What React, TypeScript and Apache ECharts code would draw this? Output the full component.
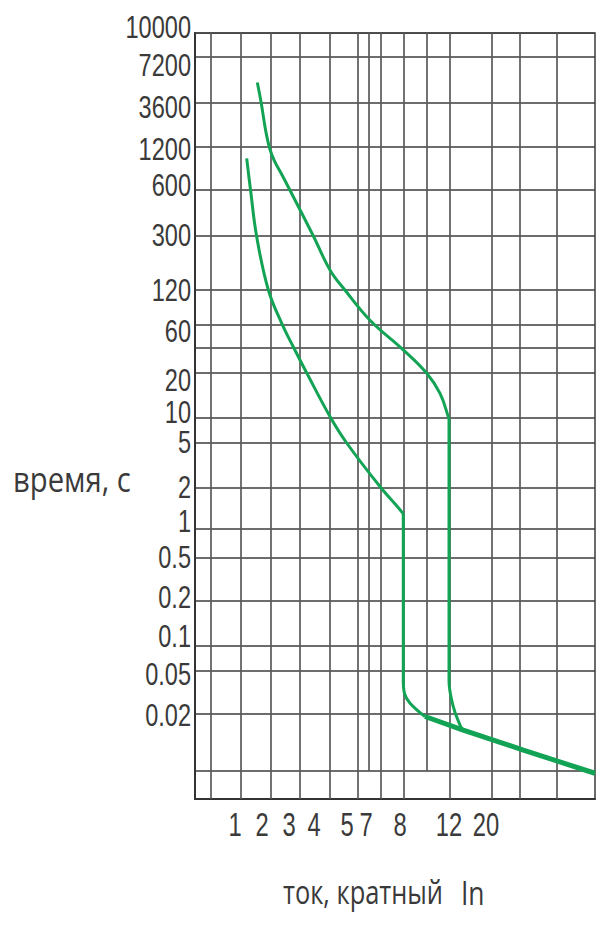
import React, { useEffect, useRef } from "react";
import * as echarts from "echarts";

// ---------- DATA ----------
// time axis (seconds), labelled grid lines, top to bottom
const timeTicks = [10000, 7200, 3600, 1200, 600, 300, 120, 60, 20, 10, 5, 2, 1, 0.5, 0.2, 0.1, 0.05, 0.02];
// unlabelled time grid lines
const timeExtra = [40, 0.01];
// current multiple axis labels (I / In)
const currentTicks = [1, 2, 3, 4, 5, 7, 8, 12, 20];

// tripping curve that goes vertical at ~8 In  [I/In, t s]
const curve8: [number, number][] = [
  [1.35, 1000], [1.49, 600], [1.746, 296], [2.2, 120], [2.69, 62], [3.15, 40.9],
  [3.68, 20], [4.46, 10.2], [4.99, 5], [7.4, 2.05], [8.11, 1.34], [8.22, 1.27],
  [8.22, 0.041], [8.3, 0.031], [8.69, 0.0252], [9.84, 0.0194],
];
// tripping curve that goes vertical at ~12 In
const curve12: [number, number][] = [
  [1.773, 4900], [1.96, 3600], [2.11, 1835], [2.24, 1181], [2.41, 958], [2.66, 789],
  [3.03, 600], [3.97, 300], [4.46, 168], [4.93, 120], [7.11, 66],
  [8.22, 38], [9.98, 19.9], [11.14, 14.6], [11.93, 10.2], [12.0, 9.5],
  [12.0, 0.041], [12.73, 0.0234], [13.96, 0.0175], [14.6, 0.01646],
];
// common instantaneous tail
const tail: [number, number][] = [
  [9.84, 0.0194], [14.6, 0.01646], [33.5, 0.0129], [90, 0.00973],
];

// ---------- LAYOUT (axis units of the schematic scales) ----------
const Y_MAX = 766;
const X_MAX = 400;
const TIME_POS: Record<string, number> = {
  "10000": 766, "7200": 742, "3600": 696, "1200": 652, "600": 609, "300": 563,
  "120": 509, "60": 474, "40": 451, "20": 426, "10": 381, "5": 356, "2": 311,
  "1": 270, "0.5": 241, "0.2": 198, "0.1": 153, "0.05": 128, "0.02": 85, "0.01": 28,
};
const CURRENT_POS: Record<string, number> = {
  "1": 40, "2": 67, "3": 94, "4": 119, "5": 152, "7": 171, "8": 205, "12": 254, "20": 291,
};
// small vertical nudges (px) of the time labels, as drawn in the original
const TIME_LABEL_DY = [-6, 8, 4, 2, -5, -1, 0, 6, 7, -6, -1, -1, -8, -1, -4, -10, 3, 1];
const VLINES = [15.7, 45.5, 75.5, 105, 134.3, 162.3, 173.7, 185.7, 208.3, 231.7, 254.3, 296.7, 324.3, 361.7];
const SHORT_VLINES = [173.7, 231.7];

// piecewise-logarithmic scale through anchor points
function makeScale(anchors: Record<string, number>) {
  const pts = Object.keys(anchors)
    .map((k) => [Math.log10(parseFloat(k)), anchors[k]] as [number, number])
    .sort((a, b) => a[0] - b[0]);
  return (v: number) => {
    const L = Math.log10(v);
    let i = 0;
    if (L >= pts[pts.length - 1][0]) i = pts.length - 2;
    else if (L > pts[0][0]) {
      while (L > pts[i + 1][0]) i++;
    }
    const [l0, p0] = pts[i];
    const [l1, p1] = pts[i + 1];
    return p0 + ((L - l0) / (l1 - l0)) * (p1 - p0);
  };
}
const fy = makeScale(TIME_POS);
const fx = makeScale(CURRENT_POS);

const GREEN = "#12a454";
const TEXT = "#3a3a3a";
const NUM_FONT = "'Liberation Sans', Arial, sans-serif";
const TITLE_FONT = "'Open Sans', 'DejaVu Sans', sans-serif";

export default function App() {
  const ref = useRef<HTMLDivElement>(null);
  useEffect(() => {
    if (!ref.current) return;
    const chart = echarts.init(ref.current, null, { renderer: "svg" });

    const hLines = [...timeTicks, ...timeExtra].map((t) => ({
      coords: [[0, fy(t)], [X_MAX, fy(t)]],
    }));
    const vLines = VLINES.map((x) => ({
      coords: [[x, SHORT_VLINES.includes(x) ? fy(0.01) : 0], [x, Y_MAX]],
    }));

    const toPts = (arr: [number, number][]) => arr.map(([i, t]) => [fx(i), fy(t)]);

    const labelStyle = (text: string, align: string, size: number) => ({
      text, fontFamily: NUM_FONT, fontSize: size, fill: TEXT, align, verticalAlign: "middle",
    });

    const option: any = {
      animation: false,
      grid: {
        left: 195, right: 1, top: 33, bottom: 129,
        show: true, borderColor: "#3c3c3c", borderWidth: 1.5,
        containLabel: false, outerBoundsMode: "none",
      },
      xAxis: {
        type: "value", min: 0, max: X_MAX,
        axisLine: { show: true, onZero: false, lineStyle: { color: "#333", width: 2 } },
        axisTick: { show: false }, splitLine: { show: false }, axisLabel: { show: false },
      },
      yAxis: {
        type: "value", min: 0, max: Y_MAX,
        axisLine: { show: true, onZero: false, lineStyle: { color: "#333", width: 2 } },
        axisTick: { show: false }, splitLine: { show: false }, axisLabel: { show: false },
      },
      series: [
        {
          type: "lines", coordinateSystem: "cartesian2d", silent: true,
          data: hLines, lineStyle: { color: "#3c3c3c", width: 1.6, opacity: 1 },
        },
        {
          type: "lines", coordinateSystem: "cartesian2d", silent: true,
          data: vLines, lineStyle: { color: "#5a5a5a", width: 1.7, opacity: 1 },
        },
        {
          type: "line", data: toPts(curve8), showSymbol: false, symbol: "none",
          smooth: 0.4,
          lineStyle: { color: GREEN, width: 3 },
        },
        {
          type: "line", data: toPts(curve12), showSymbol: false, symbol: "none",
          smooth: 0.4,
          lineStyle: { color: GREEN, width: 3 },
        },
        {
          type: "line", data: toPts(tail), showSymbol: false, symbol: "none",
          lineStyle: { color: GREEN, width: 5 },
        },
        // time tick labels, placed through the y scale
        {
          type: "custom", coordinateSystem: "cartesian2d", silent: true, clip: false,
          data: timeTicks.map((t) => [0, fy(t)]),
          encode: { x: 0, y: 1 },
          renderItem: (params: any, api: any) => {
            const p = api.coord([api.value(0), api.value(1)]);
            return {
              type: "text", x: p[0] - 4, y: p[1] + TIME_LABEL_DY[params.dataIndex], scaleX: 0.76,
              style: labelStyle(String(timeTicks[params.dataIndex]), "right", 31),
            };
          },
        },
        // current multiple labels, placed through the x scale
        {
          type: "custom", coordinateSystem: "cartesian2d", silent: true, clip: false,
          data: currentTicks.map((c) => [fx(c), 0]),
          encode: { x: 0, y: 1 },
          renderItem: (params: any, api: any) => {
            const p = api.coord([api.value(0), api.value(1)]);
            return {
              type: "text", x: p[0], y: p[1] + 26, scaleX: 0.72,
              style: labelStyle(String(currentTicks[params.dataIndex]), "center", 33),
            };
          },
        },
      ],
      graphic: [
        {
          type: "text", x: 13, y: 479, scaleX: 0.86,
          style: { text: "время, с", fontFamily: TITLE_FONT, fontSize: 34, fill: TEXT, align: "left", verticalAlign: "middle" },
        },
        {
          type: "text", x: 283, y: 892, scaleX: 0.77,
          style: { text: "ток, кратный", fontFamily: TITLE_FONT, fontSize: 33, fill: TEXT, align: "left", verticalAlign: "middle" },
        },
        {
          type: "text", x: 461, y: 892, scaleX: 0.8,
          style: { text: "In", fontFamily: TITLE_FONT, fontSize: 33, fill: TEXT, align: "left", verticalAlign: "middle" },
        },
      ],
    };
    chart.setOption(option);
    return () => chart.dispose();
  }, []);

  return (
    <div
      ref={ref}
      style={{ position: "absolute", left: 0, top: 0, width: 596, height: 928, background: "#fff" }}
    />
  );
}
